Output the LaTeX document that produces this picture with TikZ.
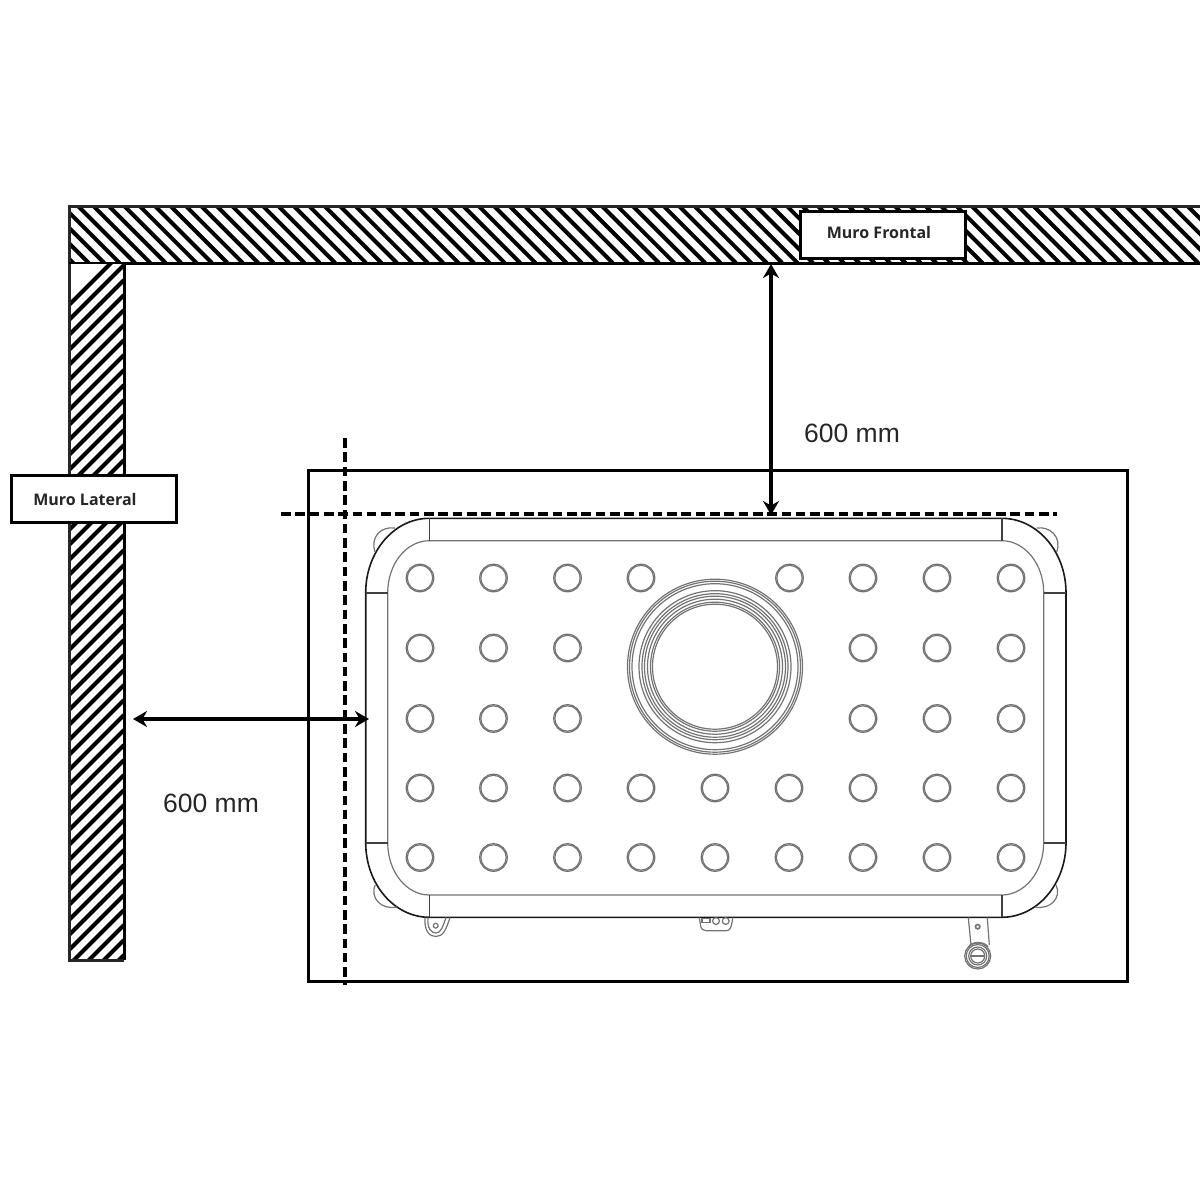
\documentclass[tikz,border=0pt]{standalone}
\usepackage{fontspec}
\setmainfont{Liberation Sans}
\newfontfamily\labelfont{Open Sans}
\usetikzlibrary{arrows.meta}
\tikzset{
    wallline/.style={line width=4pt},
    dimarrow/.style={line width=3.6pt,{Stealth[length=14pt,width=16pt]}-{Stealth[length=14pt,width=16pt]}},
    datumline/.style={line width=3.2pt,dash pattern=on 9.6pt off 4.7pt},
    wallbox/.style={draw,line width=3pt,fill=white,inner sep=0pt,minimum width=165pt,minimum height=47pt},
    walltext/.style={font=\labelfont\bfseries\fontsize{16}{18}\selectfont,text=black!85},
    dimtext/.style={font=\fontsize{26.5}{30}\selectfont,text=black!85},
    tankline/.style={draw=black!75,line width=1.6pt},
    thinline/.style={draw=black!55,line width=1.2pt},
    holeline/.style={draw=black!55,line width=1.2pt},
}
\begin{document}
\begin{tikzpicture}[x=1pt,y=-1pt]
    \useasboundingbox (0,0) rectangle (1200,1200);
    % muro frontal
    \begin{scope}
        \clip (69,206) rectangle (1200,263);
        \foreach \k in {-4,...,72}
            \draw[wallline] (78+15.41*\k,206) -- ++(57,57);
    \end{scope}
    % muro lateral
    \begin{scope}
        \clip (69,263) rectangle (124,960);
        \foreach \k in {-1,...,48}
            \draw[wallline] (124,265+15*\k) -- ++(-55,55);
    \end{scope}
    \draw[line width=3pt,black!85] (1200,206) -- (69,206) -- (69,960) -- (124,960);
    \draw[line width=3pt] (1200,263) -- (124,263) -- (124,960);
    \draw[line width=2pt] (69,263) -- (124,263);
    \node[wallbox] (frontal) at (882.5,234.5) {};
    \node[walltext] (frontaltext) at (879,232) {Muro Frontal};
    \node[wallbox] (lateral) at (93.5,499) {};
    \node[walltext] (lateraltext) at (85,499) {Muro Lateral};
    % base
    \draw[line width=3pt] (308,470) rectangle (1127,981);
    % tanque
    \draw[tankline,draw=black!90] (429.3,518.3) -- (1001.7,518.3) arc[start angle=-90,end angle=0,x radius=64.3,y radius=74.4]
        -- (1066,842.7) arc[start angle=0,end angle=90,x radius=64.3,y radius=74.6]
        -- (429.3,917.3) arc[start angle=90,end angle=180,x radius=63.6,y radius=74.6]
        -- (365.7,592.7) arc[start angle=180,end angle=270,x radius=63.6,y radius=74.4];
    \draw[thinline] (429.3,540.7) -- (1001.7,540.7) arc[start angle=-90,end angle=0,x radius=42,y radius=52]
        -- (1043.7,842.7) arc[start angle=0,end angle=90,x radius=42,y radius=52.3]
        -- (429.3,895) arc[start angle=90,end angle=180,x radius=41.6,y radius=52.3]
        -- (387.7,592.7) arc[start angle=180,end angle=270,x radius=41.6,y radius=52];
    \foreach \xa in {429.3,1001.7} {
        \draw[tankline] (\xa,518.3) -- (\xa,540.7);
        \draw[tankline] (\xa,895) -- (\xa,917.3);
    }
    \foreach \ya in {592.7,842.7} {
        \draw[tankline] (365.7,\ya) -- (387.7,\ya);
        \draw[tankline] (1043.7,\ya) -- (1066,\ya);
    }
    % esquinas
    \draw[thinline] (395,528) .. controls (381,526) and (370,537) .. (375,552);
    \draw[thinline] (1036.7,528) .. controls (1050,526) and (1062,537) .. (1056.7,552);
    \draw[thinline] (375,885) .. controls (370,898) and (381,910) .. (396.7,907);
    \draw[thinline] (1056,885) .. controls (1062,898) and (1050,910) .. (1035,907);
    % agujeros
    \foreach \cx/\cy in {420/578,493.5/578,567.5/578,641/578,789.5/578,863/578,937/578,1011/578,
        420/648,493.5/648,567.5/648,863/648,937/648,1011/648,
        420/718.5,493.5/718.5,567.5/718.5,863/718.5,937/718.5,1011/718.5,
        420/788,493.5/788,567.5/788,641/788,715/788,789/788,863/788,937/788,1011/788,
        420/857.5,493.5/857.5,567.5/857.5,641/857.5,715/857.5,789/857.5,863/857.5,937/857.5,1011/857.5} {
        \draw[holeline] (\cx,\cy) circle[radius=13.8];
        \draw[holeline] (\cx,\cy) circle[radius=12.7];
    }
    % boca
    \foreach \r in {87.5,85.5,83,76,73,70.5,67.5,64.5,62.5}
        \draw[thinline] (715,666.7) circle[radius=\r];
    % soportes
    \draw[thinline] (425,917.5) .. controls (424,932) and (430,936.5) .. (436,936.5) .. controls (443,936.5) and (446,930) .. (450,917.5);
    \draw[thinline] (428,917.5) .. controls (427,928) and (431,933) .. (436,933) .. controls (441,933) and (443,926) .. (446,917.5);
    \draw[thinline] (435.7,925.7) circle[radius=2.4];
    \draw[thinline] (699.3,917.5) -- (700.5,925) .. controls (701,929) and (703,930.7) .. (706,930.7) -- (726,930.7)
        .. controls (730,930.7) and (731.5,928) .. (732.7,917.5);
    \draw[thinline] (702,918.7) rectangle (710,922.7);
    \draw[thinline] (716,921) circle[radius=3.4];
    \draw[thinline] (725.7,921) circle[radius=3.4];
    \draw[thinline] (968.3,917.5) -- (971,945);
    \draw[thinline] (987.3,917.5) -- (989.3,945);
    \draw[thinline,line width=1.6pt] (977.7,926.7) circle[radius=2.2];
    \foreach \r in {13,11.5,9,7}
        \draw[thinline] (977.7,956) circle[radius=\r];
    \draw[thinline] (970,956) -- (985.4,956);
    \draw[thinline] (968.5,947) .. controls (971,941) and (985,941) .. (988,947);
    % referencias
    \coordinate (dhleft) at (281,514);
    \coordinate (dhright) at (1057,514);
    \coordinate (dvtop) at (345,438);
    \coordinate (dvbottom) at (345,985);
    \draw[datumline] (dhleft) -- (dhright);
    \draw[datumline] (dvtop) -- (dvbottom);
    % cotas
    \coordinate (wallfront) at (771,264);
    \coordinate (tanktop) at (771,515);
    \coordinate (wallside) at (133,719);
    \coordinate (tankside) at (369,719);
    \draw[dimarrow] (wallfront) -- (tanktop);
    \draw[dimarrow] (wallside) -- (tankside);
    \node[dimtext] (dimfront) at (852,433) {600 mm};
    \node[dimtext] (dimside) at (211,803) {600 mm};
\end{tikzpicture}
\end{document}
